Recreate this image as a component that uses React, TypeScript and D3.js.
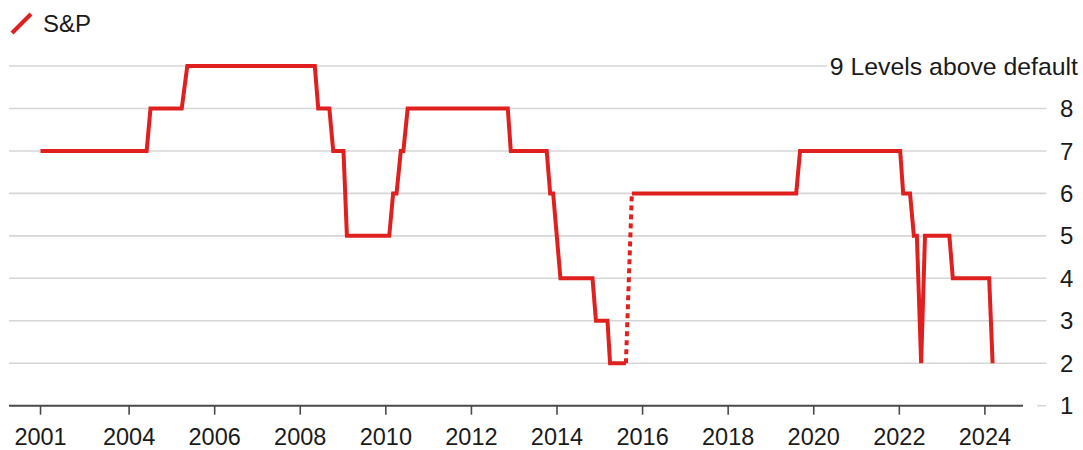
import React from "react";
import * as d3 from "d3";

// S&P rating levels above default (polyline vertices: decimal year, level)
const years = [
  2001.93, 2004.41, 2004.5, 2005.23, 2005.36, 2008.34, 2008.42, 2008.68, 2008.77,
  2009.01, 2009.09, 2010.08, 2010.17, 2010.25, 2010.35, 2010.41, 2010.51,
  2012.85, 2012.92, 2013.76, 2013.84, 2013.91, 2014.08, 2014.83, 2014.91,
  2015.18, 2015.24, 2015.61,
  2015.75, 2019.59, 2019.68, 2022.02, 2022.09, 2022.25, 2022.34, 2022.41,
  2022.51, 2022.6, 2023.17, 2023.25, 2024.1, 2024.18,
];
const levels = [
  7, 7, 8, 8, 9, 9, 8, 8, 7,
  7, 5, 5, 6, 6, 7, 7, 8,
  8, 7, 7, 6, 6, 4, 4, 3,
  3, 2, 2,
  6, 6, 7, 7, 6, 6, 5, 5,
  2, 5, 5, 4, 4, 2,
];
// index of the last point before the dotted (data gap) connection
const gapIndex = 27;

const tickYears = [2001.93, 2004, 2006, 2008, 2010, 2012, 2014, 2016, 2018, 2020, 2022, 2024];
const tickLabels = ["2001", "2004", "2006", "2008", "2010", "2012", "2014", "2016", "2018", "2020", "2022", "2024"];
const yLevels = [1, 2, 3, 4, 5, 6, 7, 8, 9];
const topLabel = "9 Levels above default";
const seriesName = "S&P";

const W = 1083;
const H = 450;
const RED = "#e0201f";
const FONT = "'Liberation Sans', Arial, Helvetica, sans-serif";

export default function App() {
  const x = d3.scaleLinear().domain([2004, 2024]).range([129.1, 984.9]);
  const y = d3.scaleLinear().domain([1, 9]).range([405.7, 66]);
  const pts: [number, number][] = years.map((yr, i) => [yr, levels[i]]);
  const line = d3
    .line<[number, number]>()
    .x((d) => x(d[0]))
    .y((d) => y(d[1]));
  const solidA = pts.slice(0, gapIndex + 1);
  const dotted = pts.slice(gapIndex, gapIndex + 2);
  const solidB = pts.slice(gapIndex + 1);

  const gridX0 = 9;
  const gridX1 = 1046.5;
  const labelX = 1060;

  return (
    <svg
      width={W}
      height={H}
      style={{ position: "absolute", left: 0, top: 0, display: "block", background: "#fff" }}
      fontFamily={FONT}
    >
      {/* gridlines */}
      {yLevels
        .filter((v) => v > 1)
        .map((v) => (
          <line
            key={v}
            x1={gridX0}
            x2={v === 9 ? 827 : gridX1}
            y1={y(v)}
            y2={y(v)}
            stroke="#d6d6d6"
            strokeWidth={1.6}
          />
        ))}
      {/* short grey piece of the level-1 gridline */}
      <line x1={1037} x2={1046} y1={y(1)} y2={y(1)} stroke="#d6d6d6" strokeWidth={1.6} />
      {/* y labels */}
      {yLevels.map((v) =>
        v === 9 ? (
          <text key={v} x={1078} y={y(v)} dy="0.36em" textAnchor="end" fontSize={24.8} fill="#1a1a1a">
            {topLabel}
          </text>
        ) : (
          <text key={v} x={labelX} y={y(v)} dy="0.36em" textAnchor="start" fontSize={24} fill="#1a1a1a">
            {v}
          </text>
        )
      )}
      {/* x axis */}
      <line x1={gridX0} x2={1023} y1={y(1)} y2={y(1)} stroke="#4a4a4a" strokeWidth={2} />
      {tickYears.map((t, i) => (
        <g key={t}>
          <line x1={x(t)} x2={x(t)} y1={y(1)} y2={y(1) + 9} stroke="#4a4a4a" strokeWidth={1.6} />
          <text x={x(t)} y={444.5} textAnchor="middle" fontSize={23.5} fill="#1a1a1a">
            {tickLabels[i]}
          </text>
        </g>
      ))}
      {/* series */}
      <path d={line(solidA) || ""} fill="none" stroke={RED} strokeWidth={4} strokeLinejoin="miter" />
      <path d={line(dotted) || ""} fill="none" stroke={RED} strokeWidth={4} strokeDasharray="5 4" />
      <path d={line(solidB) || ""} fill="none" stroke={RED} strokeWidth={4} strokeLinejoin="miter" />
      {/* legend */}
      <line x1={12} y1={33} x2={31} y2={14} stroke={RED} strokeWidth={4} />
      <text x={43} y={32} fontSize={24} fill="#1a1a1a">
        {seriesName}
      </text>
    </svg>
  );
}
